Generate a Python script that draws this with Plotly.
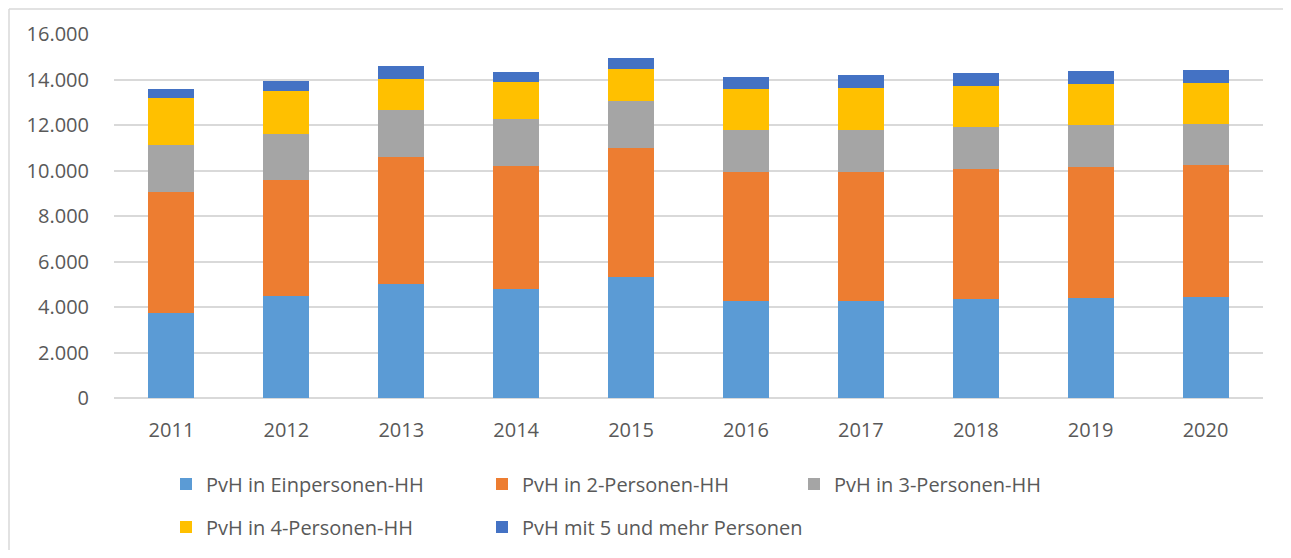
import plotly.graph_objects as go

years = ["2011", "2012", "2013", "2014", "2015", "2016", "2017", "2018", "2019", "2020"]
names = ["PvH in Einpersonen-HH", "PvH in 2-Personen-HH", "PvH in 3-Personen-HH",
         "PvH in 4-Personen-HH", "PvH mit 5 und mehr Personen"]
einpersonen = [3720, 4470, 5000, 4780, 5300, 4250, 4260, 4340, 4380, 4430]
zwei_personen = [5350, 5100, 5610, 5430, 5690, 5700, 5690, 5730, 5770, 5800]
drei_personen = [2050, 2050, 2050, 2070, 2060, 1820, 1850, 1830, 1850, 1830]
vier_personen = [2080, 1870, 1380, 1610, 1400, 1830, 1830, 1810, 1820, 1800]
fuenf_mehr = [370, 440, 570, 430, 480, 520, 550, 580, 540, 560]
y_ticks = [0, 2000, 4000, 6000, 8000, 10000, 12000, 14000, 16000]

series = [einpersonen, zwei_personen, drei_personen, vier_personen, fuenf_mehr]
colors = ["#5B9BD5", "#ED7D31", "#A5A5A5", "#FFC000", "#4472C4"]
legend_ids = ["legend", "legend2", "legend3", "legend4", "legend5"]
# legend entry positions (page px): item start x, row centre y
legend_pos = [(166, 484), (482, 484), (794, 484), (166, 527), (482, 527)]

font_family = "Open Sans, Segoe UI, DejaVu Sans, sans-serif"
text_color = "#595959"
fs = 20

fig = go.Figure()
for name, vals, col, lg in zip(names, series, colors, legend_ids):
    fig.add_trace(go.Bar(
        x=years, y=vals, name=name, legend=lg,
        marker=dict(color=col, line=dict(width=0)),
    ))

# page body has an 8px margin on every side; keep the figure inside the viewport
OFF = 8
W, H = 1291 - 2 * OFF, 558 - 2 * OFF
PL, PR, PT, PB = 114, 1263, 34, 398  # plot area in page pixels
L = PL - OFF
T = PT - OFF
R = (OFF + W) - PR
B = (OFF + H) - PB
plot_w = PR - PL
plot_h = PB - PT

def px_to_paper_x(px):
    return (px - PL) / plot_w

def px_to_paper_y(py):
    return (PB - py) / plot_h

legend_layouts = {}
for lg, (lx, ly) in zip(legend_ids, legend_pos):
    legend_layouts[lg] = dict(
        orientation="h", traceorder="normal",
        font=dict(family=font_family, size=fs, color=text_color),
        xanchor="left", yanchor="middle",
        x=px_to_paper_x(lx), y=px_to_paper_y(ly),
        bgcolor="rgba(0,0,0,0)",
        itemclick=False, itemdoubleclick=False,
    )

border = dict(color="#D9D9D9", width=1.5)
fig.update_layout(
    width=W, height=H,
    margin=dict(l=L, r=R, t=T, b=B, autoexpand=False),
    barmode="stack", bargap=0.6,
    plot_bgcolor="white", paper_bgcolor="white",
    separators=",.",
    font=dict(family=font_family, size=fs, color=text_color),
    xaxis=dict(
        type="category", showgrid=False, showline=False, ticks="",
        tickfont=dict(family=font_family, size=fs, color=text_color),
        ticklabelstandoff=18, automargin=False,
    ),
    yaxis=dict(
        range=[0, 16000], tickvals=y_ticks, tickformat=",d",
        showgrid=True, gridcolor="#D9D9D9", gridwidth=2,
        zeroline=True, zerolinecolor="#D9D9D9", zerolinewidth=2,
        showline=False, ticks="",
        tickfont=dict(family=font_family, size=fs, color=text_color),
        ticklabelstandoff=24, automargin=False,
    ),
    showlegend=True,
    shapes=[
        dict(type="line", xref="paper", yref="paper",
             x0=px_to_paper_x(9), x1=px_to_paper_x(1295),
             y0=px_to_paper_y(9), y1=px_to_paper_y(9),
             line=border, layer="below"),
        dict(type="line", xref="paper", yref="paper",
             x0=px_to_paper_x(9), x1=px_to_paper_x(9),
             y0=px_to_paper_y(9), y1=px_to_paper_y(570),
             line=border, layer="below"),
    ],
    **legend_layouts,
)

fig.write_html("out.html")
